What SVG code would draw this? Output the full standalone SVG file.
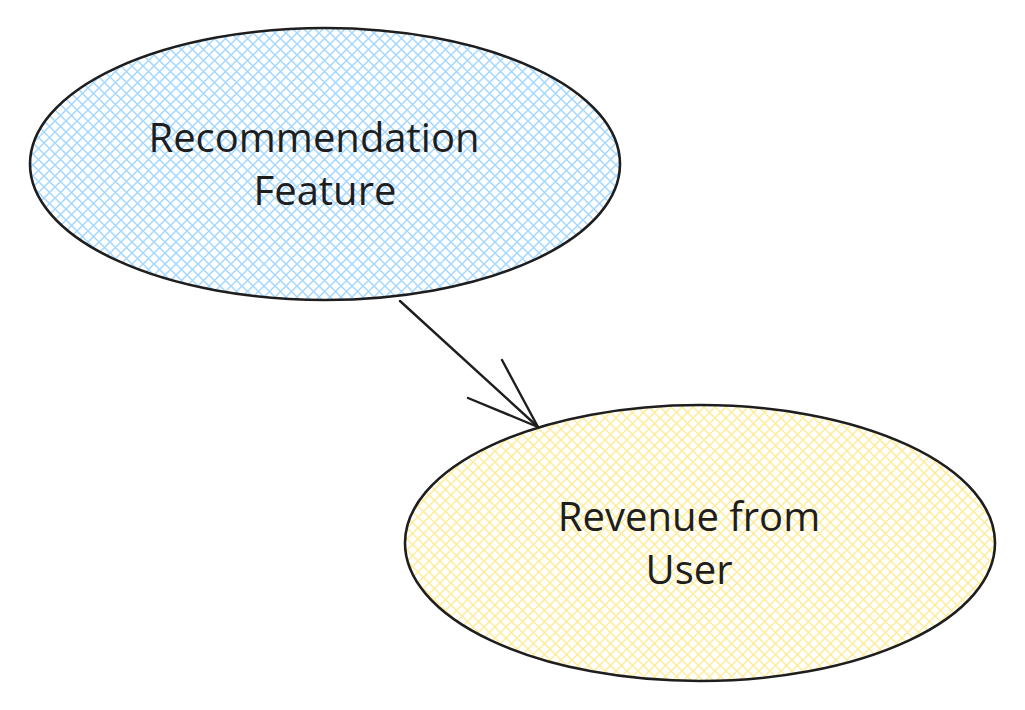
<svg xmlns="http://www.w3.org/2000/svg" width="1025" height="710" viewBox="0 0 1025 710">
  <defs>
    <pattern id="hatchBlue" patternUnits="userSpaceOnUse" width="11" height="11">
      <path d="M0,0 L11,11 M11,0 L0,11" stroke="#a5d8ff" stroke-width="1.5" fill="none"/>
    </pattern>
    <pattern id="hatchYellow" patternUnits="userSpaceOnUse" width="11" height="11">
      <path d="M0,0 L11,11 M11,0 L0,11" stroke="#ffec99" stroke-width="1.5" fill="none"/>
    </pattern>
  </defs>
  <style>
    .node { stroke: #1e1e1e; stroke-width: 2.6; }
    .label { font-family: "Open Sans", "Noto Sans", sans-serif; font-size: 40px; fill: #1e1e1e; text-anchor: middle; }
    .edge { stroke: #1e1e1e; stroke-width: 2.4; fill: none; stroke-linecap: round; stroke-linejoin: round; }
  </style>
  <rect width="1025" height="710" fill="#ffffff"/>
  <g id="node-recommendation">
    <ellipse class="node" cx="325" cy="164" rx="295" ry="136" fill="url(#hatchBlue)"/>
    <text class="label" x="314" y="152">Recommendation</text>
    <text class="label" x="325" y="205">Feature</text>
  </g>
  <g id="node-revenue">
    <ellipse class="node" cx="700" cy="543" rx="295" ry="138" fill="url(#hatchYellow)"/>
    <text class="label" x="689" y="531">Revenue from</text>
    <text class="label" x="689" y="584">User</text>
  </g>
  <g id="connectors">
    <path class="edge" d="M400,301 L538,427"/>
    <path class="edge" d="M468,398 L538,427 L502,360"/>
  </g>
</svg>
